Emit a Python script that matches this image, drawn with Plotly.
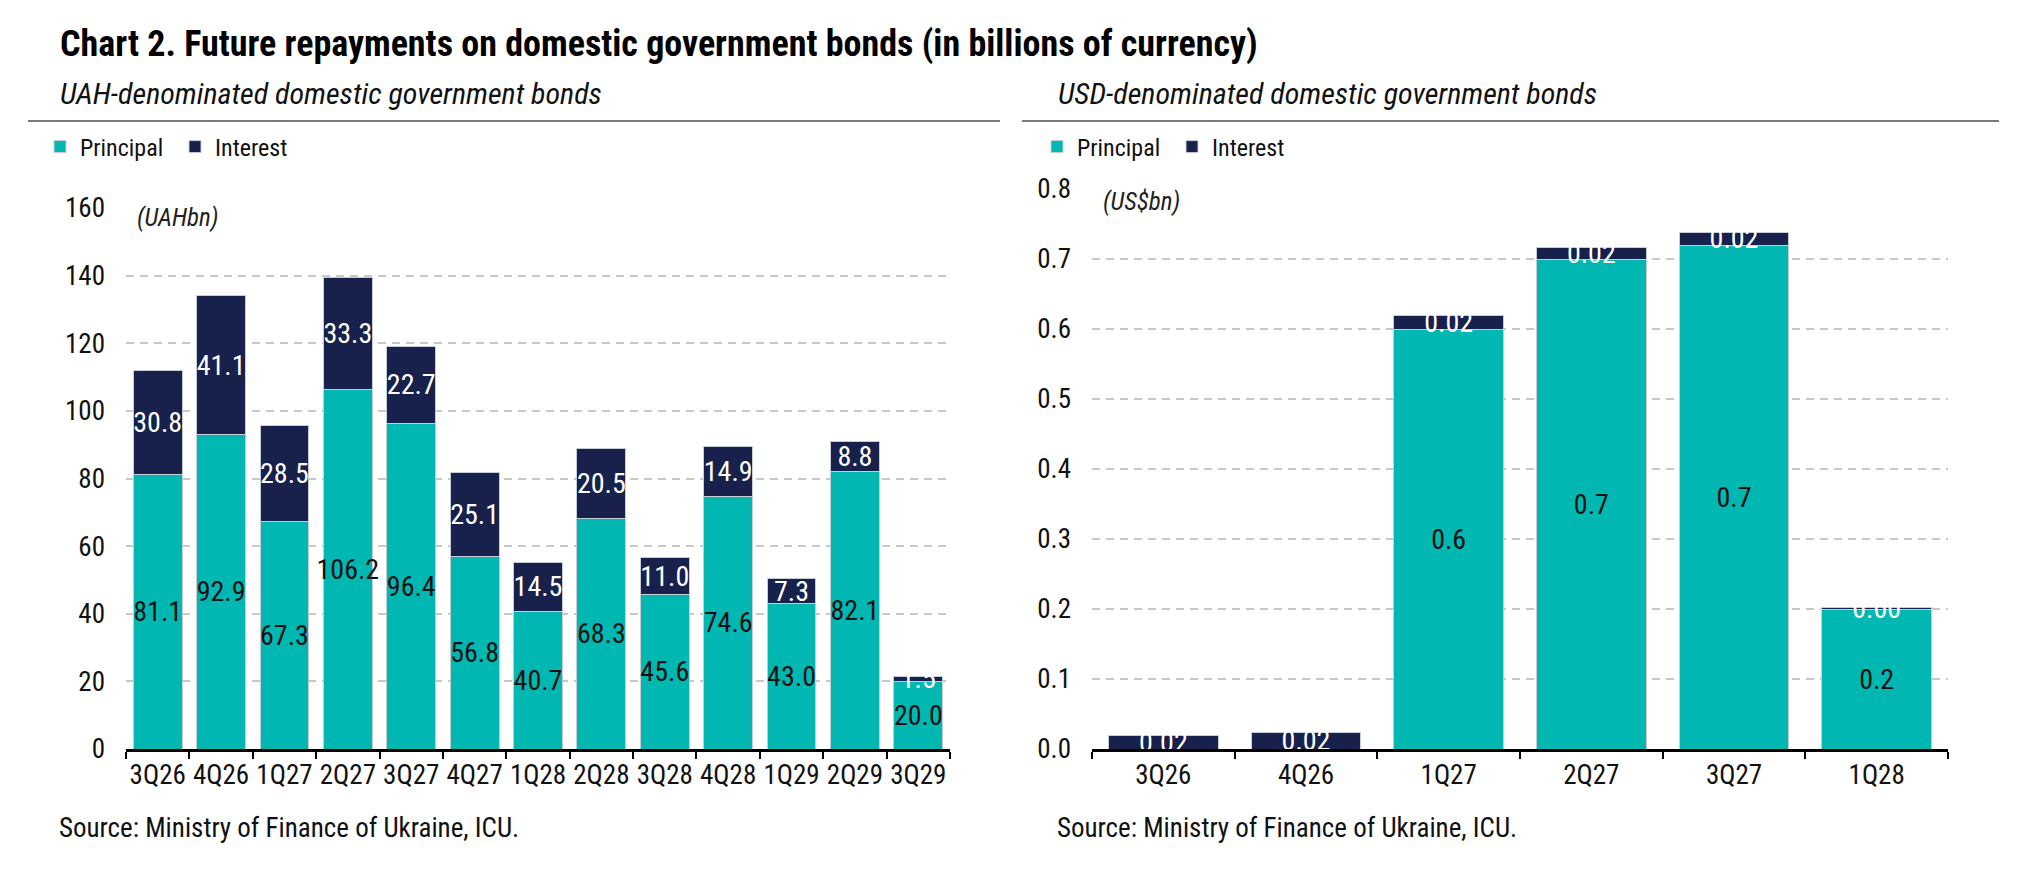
import plotly.graph_objects as go

# ---------------- data ----------------
uah_quarters = ["3Q26", "4Q26", "1Q27", "2Q27", "3Q27", "4Q27", "1Q28",
                "2Q28", "3Q28", "4Q28", "1Q29", "2Q29", "3Q29"]
uah_principal = [81.1, 92.9, 67.3, 106.2, 96.4, 56.8, 40.7, 68.3, 45.6, 74.6, 43.0, 82.1, 20.0]
uah_interest = [30.8, 41.1, 28.5, 33.3, 22.7, 25.1, 14.5, 20.5, 11.0, 14.9, 7.3, 8.8, 1.5]

usd_quarters = ["3Q26", "4Q26", "1Q27", "2Q27", "3Q27", "1Q28"]
usd_principal = [0.0, 0.0, 0.60, 0.70, 0.72, 0.20]
usd_interest = [0.020, 0.023, 0.020, 0.017, 0.018, 0.002]

uah_ticks = [0, 20, 40, 60, 80, 100, 120, 140, 160]
usd_ticks = [0.0, 0.1, 0.2, 0.3, 0.4, 0.5, 0.6, 0.7, 0.8]

# ---------------- styling ----------------
W, H = 2022, 870
TEAL = "#00B8B1"
NAVY = "#18204C"
FONT = "Roboto Condensed, DejaVu Sans Condensed, sans-serif"
TICK_FS = 27
LABEL_FS = 28
EDGE = dict(color="#c5cdd6", width=1)


def px_x(x):
    return x / W


def px_y(y):
    return 1 - y / H


fig = go.Figure()

fig.add_trace(go.Bar(
    x=uah_quarters, y=uah_principal, name="Principal", marker=dict(color=TEAL, line=EDGE),
    text=[f"{v:.1f}" for v in uah_principal], textposition="inside", insidetextanchor="middle",
    textangle=0, textfont=dict(color="#111111", size=LABEL_FS, family=FONT),
    xaxis="x", yaxis="y", legend="legend"))
fig.add_trace(go.Bar(
    x=uah_quarters, y=uah_interest, name="Interest", marker=dict(color=NAVY, line=EDGE),
    text=[f"{v:.1f}" for v in uah_interest], textposition="inside", insidetextanchor="middle",
    textangle=0, textfont=dict(color="#ffffff", size=LABEL_FS, family=FONT),
    xaxis="x", yaxis="y", legend="legend"))

fig.add_trace(go.Bar(
    x=usd_quarters, y=usd_principal, name="Principal", marker=dict(color=TEAL, line=EDGE),
    text=[f"{v:.1f}" if v > 0 else "" for v in usd_principal], textposition="inside",
    insidetextanchor="middle", textangle=0, textfont=dict(color="#111111", size=LABEL_FS, family=FONT),
    xaxis="x2", yaxis="y2", legend="legend2"))
fig.add_trace(go.Bar(
    x=usd_quarters, y=usd_interest, name="Interest", marker=dict(color=NAVY, line=EDGE),
    text=[f"{v:.2f}" for v in usd_interest], textposition="inside", insidetextanchor="middle",
    textangle=0, textfont=dict(color="#ffffff", size=LABEL_FS, family=FONT),
    xaxis="x2", yaxis="y2", legend="legend2"))

y0 = px_y(749)
xaxis_common = dict(
    type="category", showline=True, linecolor="#000000", linewidth=3,
    ticks="outside", tickson="boundaries", ticklen=7, tickwidth=2, tickcolor="#000000",
    showgrid=False, zeroline=False, tickangle=0, automargin=False,
    tickfont=dict(family=FONT, size=TICK_FS, color="#111111"),
)
yaxis_common = dict(
    showline=False, ticks="", zeroline=False, showgrid=True, gridcolor="#c8c8c8",
    gridwidth=2, griddash="8px,6px", automargin=False,
    tickfont=dict(family=FONT, size=TICK_FS, color="#111111"),
    ticklabelstandoff=20,
)

fig.update_layout(
    template="none",
    width=W, height=H, margin=dict(l=0, r=0, t=0, b=0, autoexpand=False),
    paper_bgcolor="white", plot_bgcolor="white",
    barmode="stack", bargap=0.23,
    font=dict(family=FONT, size=TICK_FS, color="#111111"),
    uniformtext=dict(minsize=LABEL_FS, mode="show"),
    xaxis=dict(domain=[px_x(126), px_x(950)], anchor="y", **xaxis_common),
    yaxis=dict(domain=[y0, px_y(208)], anchor="x", range=[0, 160], tickvals=uah_ticks,
               ticktext=[str(v) for v in uah_ticks], **yaxis_common),
    xaxis2=dict(domain=[px_x(1092), px_x(1948)], anchor="y2", **xaxis_common),
    yaxis2=dict(domain=[y0, px_y(189)], anchor="x2", range=[0, 0.8], tickvals=usd_ticks,
                ticktext=[f"{v:.1f}" for v in usd_ticks], **yaxis_common),
    legend=dict(orientation="h", x=px_x(40), xanchor="left", y=px_y(147), yanchor="middle",
                font=dict(family=FONT, size=24, color="#111111"), bgcolor="rgba(0,0,0,0)",
                entrywidth=90, entrywidthmode="pixels", traceorder="normal"),
    legend2=dict(orientation="h", x=px_x(1037), xanchor="left", y=px_y(147), yanchor="middle",
                 font=dict(family=FONT, size=24, color="#111111"), bgcolor="rgba(0,0,0,0)",
                 entrywidth=90, entrywidthmode="pixels", traceorder="normal"),
    title=dict(text="<b>Chart 2. Future repayments on domestic government bonds (in billions of currency)</b>",
               x=px_x(60), xanchor="left", xref="paper", y=px_y(43), yanchor="middle", yref="container",
               font=dict(family=FONT, size=36, color="#000000")),
    showlegend=True,
)

fig.add_shape(type="line", xref="paper", yref="paper", x0=px_x(28), x1=px_x(1000),
              y0=px_y(121), y1=px_y(121), line=dict(color="#7a7a7a", width=2))
fig.add_shape(type="line", xref="paper", yref="paper", x0=px_x(1022), x1=px_x(1999),
              y0=px_y(121), y1=px_y(121), line=dict(color="#7a7a7a", width=2))

annos = [
    dict(text="<i>UAH-denominated domestic government bonds</i>", x=px_x(58), y=px_y(94), size=30),
    dict(text="<i>USD-denominated domestic government bonds</i>", x=px_x(1056), y=px_y(94), size=30),
    dict(text="Source: Ministry of Finance of Ukraine, ICU.", x=px_x(57), y=px_y(828), size=27),
    dict(text="Source: Ministry of Finance of Ukraine, ICU.", x=px_x(1055), y=px_y(828), size=27),
]
for a in annos:
    fig.add_annotation(text=a["text"], x=a["x"], y=a["y"], xref="paper", yref="paper",
                       xanchor="left", yanchor="middle", showarrow=False,
                       font=dict(family=FONT, size=a["size"], color="#111111"))

fig.add_annotation(text="<i>(UAHbn)</i>", x=px_x(126), y=px_y(217), xref="paper", yref="paper",
                   xanchor="left", yanchor="middle", showarrow=False, bgcolor="white",
                   borderpad=10, font=dict(family=FONT, size=25, color="#222222"))
fig.add_annotation(text="<i>(US$bn)</i>", x=px_x(1092), y=px_y(202), xref="paper", yref="paper",
                   xanchor="left", yanchor="middle", showarrow=False, bgcolor="white",
                   borderpad=10, font=dict(family=FONT, size=25, color="#222222"))

fig.write_html("out.html")
